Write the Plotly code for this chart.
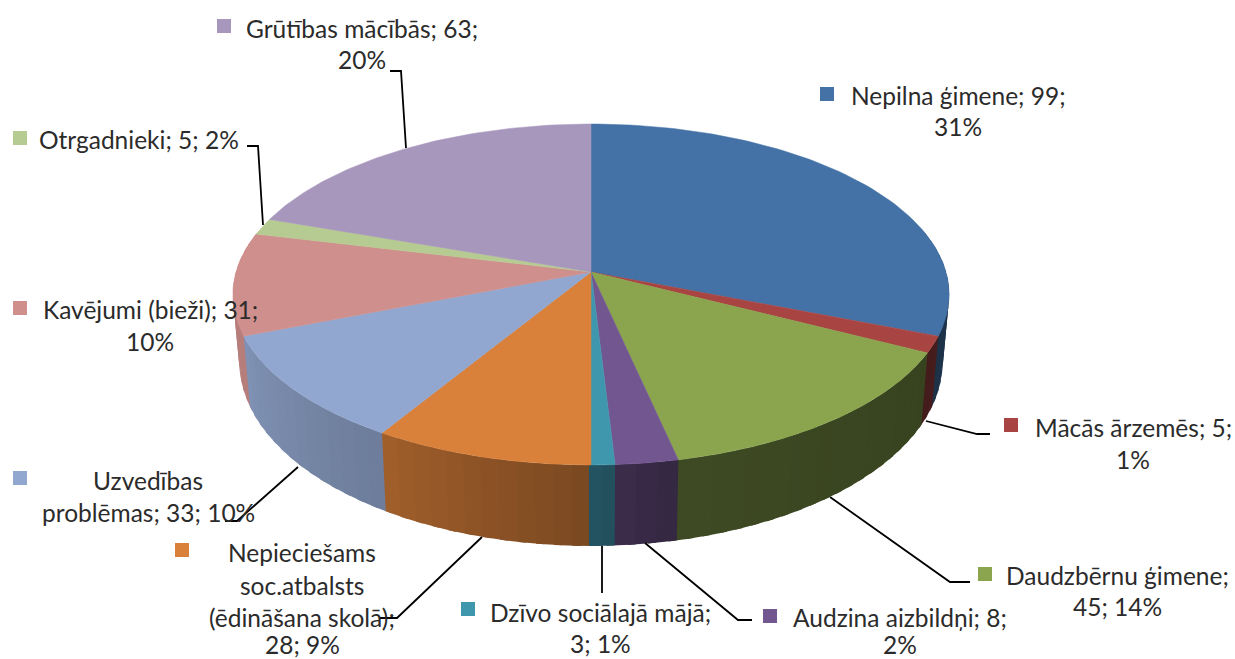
import numpy as np
import plotly.graph_objects as go

categories = ["Nepilna ģimene", "Mācās ārzemēs", "Daudzbērnu ģimene", "Audzina aizbildņi",
              "Dzīvo sociālajā mājā", "Nepieciešams soc.atbalsts (ēdināšana skolā)",
              "Uzvedības problēmas", "Kavējumi (bieži)", "Otrgadnieki", "Grūtības mācībās"]
values = [99, 5, 45, 8, 3, 28, 33, 31, 5, 63]
colors = ["#4472A6", "#A84543", "#8AA54E", "#725690", "#3F97AE",
          "#D9803A", "#92A7CF", "#CF8F8C", "#B6CB92", "#A897BC"]

label_lines = [
    ["Nepilna ģimene; 99;", "31%"],
    ["Mācās ārzemēs; 5;", "1%"],
    ["Daudzbērnu ģimene;", "45; 14%"],
    ["Audzina aizbildņi; 8;", "2%"],
    ["Dzīvo sociālajā mājā;", "3; 1%"],
    ["Nepieciešams", "soc.atbalsts", "(ēdināšana skolā);", "28; 9%"],
    ["Uzvedības", "problēmas; 33; 10%"],
    ["Kavējumi (bieži); 31;", "10%"],
    ["Otrgadnieki; 5; 2%"],
    ["Grūtības mācībās; 63;", "20%"],
]
label_cx = [958, 1133, 1117, 900, 600, 302, 148, 150, 139, 362]
label_y = [[95, 126], [427, 459], [575, 606], [617, 644], [612, 643],
           [552, 585, 617, 644], [480, 512], [309, 341], [139], [28, 59]]
key_x = [827, 1011, 985, 770, 468, 182, 20, 20, 20, 224]
key_y = [94, 425, 574, 616, 609, 550, 478, 308, 138, 26]

leaders = [
    None,
    ([926, 977, 990], [421, 434, 434]),
    ([830, 950, 970], [497, 582, 582]),
    ([645, 738, 752], [543, 620, 620]),
    ([602, 602], [546, 593]),
    ([482, 397, 380], [537, 618, 618]),
    ([298, 237, 225], [467, 521, 521]),
    None,
    ([263, 258, 247], [225, 146, 146]),
    ([406, 401, 390], [148, 71, 71]),
]

CX, CY, RX, RY, K = 591.0, 272.0, 355.0, 167.5, 0.132


def top_xy(theta):
    u, v = np.sin(theta), np.cos(theta)
    d = 1 + K * v
    return CX + RX * u / d, CY - RY * v / d


def bottom_xy(theta):
    x, y = top_xy(theta)
    return CX + 0.982 * (x - CX), y + 81 + 0.08 * (y - 465)


def shade(hex_color, f):
    r, g, b = (int(hex_color[i:i + 2], 16) for i in (1, 3, 5))
    return f"rgb({r * f:.0f},{g * f:.0f},{b * f:.0f})"


edges = np.concatenate([[0], np.cumsum(values)]) / sum(values) * 2 * np.pi
fig = go.Figure()

# side of the disc, split in narrow strips to carry the shading
strips = []
for i in range(len(values)):
    n = max(2, int(np.degrees(edges[i + 1] - edges[i]) / 2.5))
    ts = np.linspace(edges[i], edges[i + 1], n + 1)
    for a, b in zip(ts[:-1], ts[1:]):
        m = (a + b) / 2
        if np.cos(m) < 0.25:
            strips.append((np.cos(m), a, b, m, colors[i]))
strips.sort(key=lambda s: -s[0])
OVER = np.radians(1.2)
for _, a, b, m, col in strips:
    f = float(np.interp(np.degrees(m), [90, 117, 168, 180, 211, 250, 283],
                        [.50, .40, .45, .56, .74, .88, .88]))
    c = shade(col, f)
    # each strip runs a little under the one painted after it, so no seams show
    if m < np.pi:
        tt = np.linspace(a, min(b + OVER, np.pi + 0.005), 4)
    else:
        tt = np.linspace(max(a - OVER, np.pi - 0.005), b, 4)
    xt, yt = top_xy(tt)
    xb, yb = bottom_xy(tt[::-1])
    fig.add_trace(go.Scatter(x=np.r_[xt, xb], y=np.r_[yt, yb], mode="lines", fill="toself",
                             fillcolor=c, line=dict(color=c, width=0),
                             hoverinfo="skip", showlegend=False))

# top face
for i, name in enumerate(categories):
    tt = np.linspace(edges[i], edges[i + 1], 80)
    xa, ya = top_xy(tt)
    fig.add_trace(go.Scatter(x=np.r_[CX, xa, CX], y=np.r_[CY, ya, CY], mode="lines", fill="toself",
                             fillcolor=colors[i], line=dict(color=colors[i], width=0.5),
                             name=name, showlegend=False, hoverinfo="name"))

# leader lines
for seg in leaders:
    if seg:
        fig.add_trace(go.Scatter(x=seg[0], y=seg[1], mode="lines", line=dict(color="#000000", width=1.8),
                                 hoverinfo="skip", showlegend=False))

# keys
fig.add_trace(go.Scatter(x=key_x, y=key_y, mode="markers", hoverinfo="skip", showlegend=False,
                         marker=dict(symbol="square", size=14, color=colors, line=dict(width=0))))

# labels
for lines, cx, ys in zip(label_lines, label_cx, label_y):
    for t, y in zip(lines, ys):
        fig.add_annotation(x=cx, y=y, text=t, showarrow=False, xanchor="center", yanchor="middle",
                           font=dict(family="Lato, sans-serif", size=24.5, color="#2B2B2B"))

fig.update_layout(width=1235, height=659, margin=dict(l=0, r=0, t=0, b=0),
                  paper_bgcolor="white", plot_bgcolor="white",
                  xaxis=dict(range=[0, 1235], visible=False, fixedrange=True),
                  yaxis=dict(range=[659, 0], visible=False, fixedrange=True))
fig.write_html("out.html", config={"displayModeBar": False},
               post_script="document.body.style.margin='0';")
